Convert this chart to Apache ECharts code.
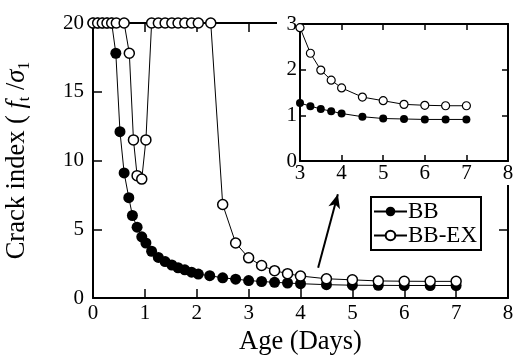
<!DOCTYPE html>
<html><head><meta charset="utf-8">
<script src="https://cdn.jsdelivr.net/npm/echarts@6/dist/echarts.min.js"></script>
<style>html,body{margin:0;padding:0;background:#fff}#c{width:513px;height:362px}</style>
</head><body><div id="c"></div>
<script>
// ---- data ----
const bbX = [0, 0.09, 0.18, 0.27, 0.36, 0.44, 0.52, 0.6, 0.69, 0.76, 0.85, 0.94, 1.02, 1.13, 1.26, 1.39, 1.52, 1.64, 1.77, 1.9, 2.03, 2.25, 2.5, 2.75, 3, 3.25, 3.5, 3.75, 4, 4.5, 5, 5.5, 6, 6.5, 7];
const bbY = [20, 20, 20, 20, 20, 17.8, 12.1, 9.1, 7.3, 6.0, 5.15, 4.45, 4.0, 3.4, 2.95, 2.65, 2.4, 2.2, 2.05, 1.88, 1.74, 1.62, 1.47, 1.37, 1.27, 1.2, 1.14, 1.09, 1.04, 0.97, 0.93, 0.92, 0.91, 0.91, 0.91];
const exX = [0, 0.09, 0.18, 0.27, 0.36, 0.45, 0.6, 0.7, 0.78, 0.85, 0.94, 1.02, 1.13, 1.26, 1.39, 1.52, 1.64, 1.77, 1.9, 2.03, 2.27, 2.5, 2.75, 3, 3.25, 3.5, 3.75, 4, 4.5, 5, 5.5, 6, 6.5, 7];
const exY = [20, 20, 20, 20, 20, 20, 20, 17.8, 11.5, 8.9, 8.65, 11.5, 20, 20, 20, 20, 20, 20, 20, 20, 20, 6.8, 4.0, 2.92, 2.36, 1.99, 1.77, 1.6, 1.4, 1.32, 1.24, 1.22, 1.21, 1.21];
const seriesNames = ['BB', 'BB-EX'];
const mainXRange = [0, 8, 1];   // min, max, interval
const mainYRange = [0, 20, 5];
const insetXRange = [3, 8, 1];
const insetYRange = [0, 3, 1];
const arrowFrom = [4.34, 2.2];
const arrowTo = [4.72, 7.55];
const xTitle = 'Age (Days)';
const yTitle = 'Crack index ( {i|f}{s|t}{n| /}{i|σ}{s|1}';

// ---- chart ----
const FONT = "'Liberation Serif', 'Times New Roman', serif";
const pairs = (xs, ys) => xs.map((x, i) => [x, ys[i]]);
const insetPairs = (xs, ys) => pairs(xs, ys).filter(p => p[0] >= insetXRange[0]);
const lbl = (margin) => ({ show: true, color: '#000', fontFamily: FONT, fontSize: 21, margin: margin });

function ax(range, opts) {
  return Object.assign({
    type: 'value', min: range[0], max: range[1], interval: range[2],
    axisLine: { show: true, onZero: false, lineStyle: { color: '#000', width: 2 } },
    axisTick: { show: true, inside: true, length: 9, lineStyle: { color: '#000', width: 1.5 } },
    axisLabel: lbl(8),
    splitLine: { show: false }
  }, opts);
}
const smallTick = { show: true, inside: true, length: 6, lineStyle: { color: '#000', width: 1.5 } };

const chart = echarts.init(document.getElementById('c'), null, { renderer: 'canvas' });
chart.setOption({
  animation: false,
  backgroundColor: '#fff',
  textStyle: { fontFamily: FONT },
  grid: [
    { left: 93, right: 5, top: 23, bottom: 64, containLabel: false, outerBoundsMode: 'none' },
    { left: 300, right: 5, top: 24, bottom: 201, containLabel: false, outerBoundsMode: 'none' }
  ],
  xAxis: [
    ax(mainXRange, { gridIndex: 0, position: 'bottom', axisLabel: lbl(5),
      name: xTitle, nameLocation: 'middle', nameGap: 27,
      nameTextStyle: { color: '#000', fontFamily: FONT, fontSize: 26.5 } }),
    ax(mainXRange, { gridIndex: 0, position: 'top', axisLabel: { show: false } }),
    ax(insetXRange, { gridIndex: 1, position: 'bottom', z: 10, axisTick: smallTick, axisLabel: lbl(2) }),
    ax(insetXRange, { gridIndex: 1, position: 'top', z: 10, axisLabel: { show: false }, axisTick: smallTick })
  ],
  yAxis: [
    ax(mainYRange, { gridIndex: 0, position: 'left', axisLabel: lbl(9),
      name: yTitle, nameLocation: 'middle', nameGap: 60, nameRotate: 90,
      nameTextStyle: { color: '#000', fontFamily: FONT, fontSize: 26.5, lineHeight: 31,
        rich: {
          i: { fontFamily: FONT, fontSize: 26.5, fontStyle: 'italic', color: '#000', lineHeight: 31 },
          n: { fontFamily: FONT, fontSize: 26.5, color: '#000', lineHeight: 31 },
          s: { fontFamily: FONT, fontSize: 16, color: '#000', verticalAlign: 'bottom', lineHeight: 14 }
        } } }),
    ax(mainYRange, { gridIndex: 0, position: 'right', axisLabel: { show: false } }),
    ax(insetYRange, { gridIndex: 1, position: 'left', z: 10, axisTick: smallTick, axisLabel: lbl(3) }),
    ax(insetYRange, { gridIndex: 1, position: 'right', z: 10, axisLabel: { show: false }, axisTick: smallTick })
  ],
  graphic: [
    { type: 'rect', z: 4, silent: true, shape: { x: 277, y: 0, width: 236, height: 185 }, style: { fill: '#fff' } }
  ],
  legend: {
    data: seriesNames, orient: 'vertical', left: 371, top: 197,
    padding: [3, 4, 3, 2], itemGap: 1, itemWidth: 33, itemHeight: 12,
    borderColor: '#000', borderWidth: 2, backgroundColor: '#fff',
    textStyle: { color: '#000', fontFamily: FONT, fontSize: 23, padding: [0, 0, 0, -4] }
  },
  series: [
    { name: seriesNames[0], type: 'line', xAxisIndex: 0, yAxisIndex: 0, data: pairs(bbX, bbY),
      symbol: 'circle', symbolSize: 11, z: 2,
      itemStyle: { color: '#000' }, lineStyle: { color: '#000', width: 1 },
      markLine: { silent: true, symbol: ['none', 'arrow'], symbolSize: [9, 14],
        lineStyle: { color: '#000', width: 2, type: 'solid' }, label: { show: false },
        data: [[{ coord: arrowFrom }, { coord: arrowTo }]] } },
    { name: seriesNames[1], type: 'line', xAxisIndex: 0, yAxisIndex: 0, data: pairs(exX, exY),
      symbol: 'circle', symbolSize: 10, z: 3,
      itemStyle: { color: '#fff', borderColor: '#000', borderWidth: 1.5 }, lineStyle: { color: '#000', width: 1 } },
    { name: seriesNames[0], type: 'line', xAxisIndex: 2, yAxisIndex: 2, data: insetPairs(bbX, bbY),
      symbol: 'circle', symbolSize: 8, z: 10,
      itemStyle: { color: '#000' }, lineStyle: { color: '#000', width: 1 } },
    { name: seriesNames[1], type: 'line', xAxisIndex: 2, yAxisIndex: 2, data: insetPairs(exX, exY),
      symbol: 'circle', symbolSize: 8, z: 10,
      itemStyle: { color: '#fff', borderColor: '#000', borderWidth: 1.2 }, lineStyle: { color: '#000', width: 1 } }
  ]
});
</script></body></html>
